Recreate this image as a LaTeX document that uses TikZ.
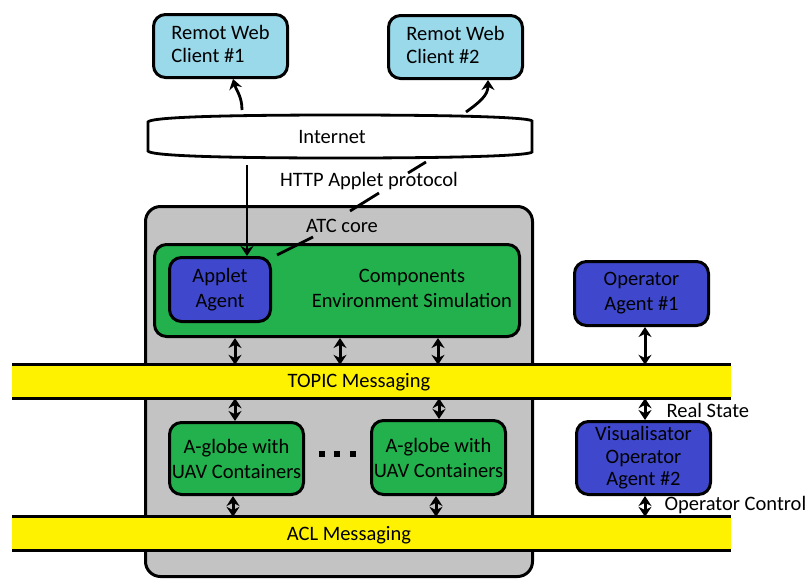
\documentclass[tikz,border=0pt]{standalone}
\usepackage{fontspec}
\setmainfont{Carlito}
\usetikzlibrary{arrows.meta}
\definecolor{lblue}{HTML}{99D9EA}
\definecolor{pgreen}{HTML}{22B14C}
\definecolor{pblue}{HTML}{3F48CC}
\definecolor{pyellow}{HTML}{FFF200}
\definecolor{pgray}{HTML}{C3C3C3}
\begin{document}
\begin{tikzpicture}[x=1pt,y=-1pt,
  font=\fontsize{20.5}{25}\selectfont,
  box/.style={draw, line width=3pt, rounded corners=12pt, inner sep=0pt, align=center},
  band/.style={fill=pyellow, inner sep=0pt, minimum width=719, minimum height=33},
  bandline/.style={line width=2.8pt},
  dbl/.style={{Stealth[length=10pt,width=13pt]}-{Stealth[length=10pt,width=13pt]}, line width=3pt},
  sarrow/.style={-{Stealth[length=10pt,width=13pt]}, line width=2.8pt},
  callout/.style={line width=2.8pt}]
\useasboundingbox (0,0) rectangle (808,579);

% ATC core container
\node[box, fill=pgray, rounded corners=15pt, minimum width=387, minimum height=370] (core) at (339,391.5) {};
\node (corelbl) at (342,226) {ATC core};

% Components
\node[box, fill=pgreen, minimum width=365, minimum height=92] (green) at (337,290.5) {};
\node[align=center] (comp) at (412,288) {Components\\Environment Simulation};
\node[box, fill=pblue, minimum width=101, minimum height=64] (applet) at (220,289.5) {Applet\\Agent};

% Bands
\node[band] (topic) at (371.5,381.5) {};
\draw[bandline] (topic.north west) -- (topic.north east);
\draw[bandline] (topic.south west) -- (topic.south east);
\node (topiclbl) at (359,382) {TOPIC Messaging};

\node[band] (acl) at (371.5,533.5) {};
\draw[bandline] (acl.north west) -- (acl.north east);
\draw[bandline] (acl.south west) -- (acl.south east);
\node (acllbl) at (349,535) {ACL Messaging};

% A-globe containers
\node[box, fill=pgreen, minimum width=134, minimum height=72] (ag1) at (236.5,458.5) {A-globe with\\UAV Containers};
\node[box, fill=pgreen, minimum width=134, minimum height=74] (ag2) at (438.5,457.5) {A-globe with\\UAV Containers};
\node[inner sep=0pt] (dots) at (337,454) {\rule{6pt}{6pt}\hspace{9.5pt}\rule{6pt}{6pt}\hspace{9.5pt}\rule{6pt}{6pt}};

% Operators
\node[box, fill=pblue, minimum width=134, minimum height=64] (op1) at (641.5,293.5) {Operator\\Agent \#1};
\node[box, fill=pblue, minimum width=134, minimum height=73, font=\fontsize{20.5}{22.5}\selectfont] (vis) at (643.5,458) {Visualisator\\Operator\\Agent \#2};
\node[anchor=west] (rs) at (663,410) {Real State};
\node[anchor=west] (oc) at (661,505) {Operator Control};

% Clients
\node[box, fill=lblue, minimum width=134, minimum height=63] (c1) at (220.5,46) {\begin{tabular}{@{}l@{}}Remot Web\\[-2pt]Client \#1\end{tabular}};
\node[box, fill=lblue, minimum width=134, minimum height=63] (c2) at (455.5,47) {\begin{tabular}{@{}l@{}}Remot Web\\[-2pt]Client \#2\end{tabular}};

% Internet
\draw[line width=2.8pt, fill=white] (148,122) -- (148,151)
  .. controls (150,155) and (200,158) .. (340,158)
  .. controls (480,158) and (530,155) .. (532,152) -- (532,121)
  .. controls (530,118) and (480,115) .. (340,115)
  .. controls (200,115) and (150,118) .. (148,122) -- cycle;
\node (inet) at (332,137) {Internet};

% Internet to clients
\coordinate (i1) at (242,110);
\coordinate (i2) at (466,112);
\draw[sarrow] (i1) .. controls (242,96) and (236,90) .. (c1.south -| 233,0);
\draw[sarrow] (i2) .. controls (480,102) and (488,95) .. (c2.south -| 488,0);

% HTTP applet protocol
\coordinate (hs) at (247,165);
\draw[sarrow] (hs) -- (applet.north -| hs);
\node (http) at (369,181) {HTTP Applet protocol};
\coordinate (k1a) at (426,162); \coordinate (k1b) at (408,173);
\coordinate (k2a) at (379,193); \coordinate (k2b) at (350,211);
\coordinate (k3a) at (313,237); \coordinate (k3b) at (277,255);
\draw[callout] (k1a) -- (k1b);
\draw[callout] (k2a) -- (k2b);
\draw[callout] (k3a) -- (k3b);

% Double arrows green <-> topic
\foreach \x in {235,340,438}
  \draw[dbl] (green.south -| \x,0) -- (topic.north -| \x,0);
% topic <-> A-globe
\draw[dbl] (topic.south -| 235,0) -- (ag1.north -| 235,0);
\draw[dbl] (topic.south -| 439,0) -- (ag2.north -| 439,0);
% A-globe <-> ACL
\draw[dbl] (ag1.south -| 233,0) -- (acl.north -| 233,0);
\draw[dbl] (ag2.south -| 436,0) -- (acl.north -| 436,0);
% operators
\draw[dbl] (op1.south -| 645,0) -- (topic.north -| 645,0);
\draw[dbl] (topic.south -| 645,0) -- (vis.north -| 645,0);
\draw[dbl] (vis.south -| 645,0) -- (acl.north -| 645,0);
\end{tikzpicture}
\end{document}
